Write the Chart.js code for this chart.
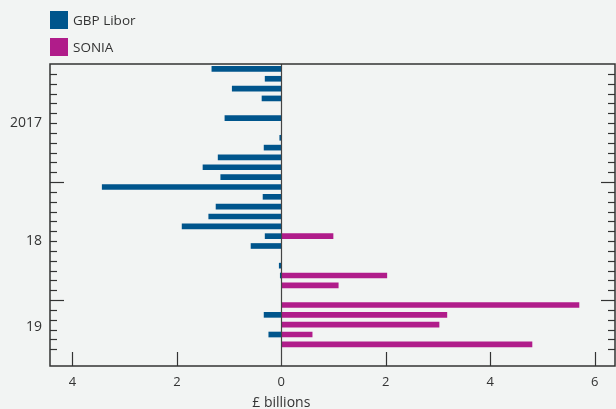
<!DOCTYPE html>
<html>
<head>
<meta charset="utf-8">
<script src="https://cdn.jsdelivr.net/npm/chart.js@4"></script>
<style>
  html, body { margin: 0; padding: 0; background: #f2f4f3; }
  #wrap { position: relative; width: 616px; height: 409px; }
  canvas { position: absolute; left: 0; top: 0; }
  .leg { position: absolute; left: 50px; height: 18px; display: flex; align-items: center;
         font-family: "Open Sans", sans-serif; font-size: 13.5px; color: #333; white-space: nowrap; }
  .leg .sw { width: 18px; height: 18px; margin-right: 5px; display: inline-block; }
</style>
</head>
<body>
<div id="wrap">
  <canvas id="c" width="616" height="409"></canvas>
</div>
<script>
// Months: Jan 2017 .. Jul 2019
const months = [
  'Jan 2017','Feb 2017','Mar 2017','Apr 2017','May 2017','Jun 2017','Jul 2017','Aug 2017','Sep 2017','Oct 2017','Nov 2017','Dec 2017',
  'Jan 2018','Feb 2018','Mar 2018','Apr 2018','May 2018','Jun 2018','Jul 2018','Aug 2018','Sep 2018','Oct 2018','Nov 2018','Dec 2018',
  'Jan 2019','Feb 2019','Mar 2019','Apr 2019','May 2019','Jun 2019','Jul 2019'
];
// £ billions (negative = plotted to the left)
const gbpLibor = [
  -1.33, -0.31, -0.94, -0.37, null, -1.08, null, -0.03, -0.33, -1.21, -1.50, -1.16,
  -3.43, -0.35, -1.25, -1.39, -1.90, -0.31, -0.58, null, -0.04, -0.02, null, null,
  null, -0.33, null, -0.24, null, null, null
];
const sonia = [
  null, null, null, null, null, null, null, null, null, null, null, null,
  null, null, null, null, null, 0.99, null, null, null, 2.02, 1.09, null,
  5.70, 3.17, 3.02, 0.59, 4.80, null, null
];
const seriesNames = ['GBP Libor', 'SONIA'];
const seriesColors = ['#00558c', '#b01c8a'];
const xTickValues = [-4, -2, 0, 2, 4, 6];
const yearLabels = ['2017', '18', '19'];
const yearLabelPos = [6, 18, 26.7];   // in month-index units
const yearStarts = [12, 24];          // month boundaries marked with long ticks
const xTitle = '£ billions';

function toPoints(arr) {
  const pts = [];
  arr.forEach((v, i) => { if (v !== null) pts.push({ x: v, y: i + 0.5 }); });
  return pts;
}

const INK = '#333333';

const framePlugin = {
  id: 'frame',
  afterDatasetsDraw(chart) {
    const { ctx, chartArea: a, scales: { x, y } } = chart;
    const line = (x1, y1, x2, y2) => { ctx.beginPath(); ctx.moveTo(x1, y1); ctx.lineTo(x2, y2); ctx.stroke(); };
    ctx.save();
    ctx.strokeStyle = INK;
    ctx.lineWidth = 1.2;
    // month ticks, inward on both sides
    for (let k = 1; k < months.length - 1; k++) {
      const py = Math.round(y.getPixelForValue(k)) + 0.5;
      const len = yearStarts.includes(k) ? 14 : 7;
      line(a.left, py, a.left + len, py);
      line(a.right - len, py, a.right, py);
    }
    // x ticks inward
    xTickValues.forEach(v => {
      if (v === 0) return;
      const px = Math.round(x.getPixelForValue(v)) + 0.5;
      line(px, a.bottom, px, a.bottom - 14);
    });
    // zero line
    ctx.strokeStyle = '#444';
    const p0 = Math.round(x.getPixelForValue(0)) + 0.5;
    line(p0, a.top, p0, a.bottom);
    // frame
    ctx.strokeStyle = INK;
    ctx.lineWidth = 1.5;
    ctx.strokeRect(a.left, a.top, a.right - a.left, a.bottom - a.top);
    // axis title centred on zero
    ctx.fillStyle = INK;
    ctx.font = '14px "Open Sans", sans-serif';
    ctx.textAlign = 'center';
    ctx.textBaseline = 'middle';
    ctx.fillText(xTitle, x.getPixelForValue(0), a.bottom + 37);
    ctx.restore();
  }
};

const chart = new Chart(document.getElementById('c'), {
  type: 'bar',
  data: {
    datasets: [
      { label: seriesNames[0], data: toPoints(gbpLibor), backgroundColor: seriesColors[0], grouped: false, barThickness: 5 },
      { label: seriesNames[1], data: toPoints(sonia), backgroundColor: seriesColors[1], grouped: false, barThickness: 5 }
    ]
  },
  options: {
    indexAxis: 'y',
    responsive: false,
    animation: false,
    events: [],
    layout: { padding: { top: 64, right: 1, left: 0, bottom: 0 } },
    plugins: { legend: { display: false }, tooltip: { enabled: false } },
    scales: {
      y: {
        type: 'linear',
        reverse: true,
        offset: false,
        min: 0,
        max: 30.7,
        grid: { display: false, offset: false, drawTicks: false },
        border: { display: false },
        afterBuildTicks: (s) => { s.ticks = yearLabelPos.map(v => ({ value: v })); },
        afterFit: (s) => { s.width = 50; },
        ticks: {
          padding: 8,
          color: INK,
          font: { family: '"Open Sans", sans-serif', size: 14 },
          callback: (v, i) => yearLabels[i]
        }
      },
      x: {
        type: 'linear',
        offset: false,
        min: -4.43,
        max: 6.39,
        grid: { display: false, drawTicks: false },
        border: { display: false },
        afterBuildTicks: (s) => { s.ticks = xTickValues.map(v => ({ value: v })); },
        afterFit: (s) => { s.height = 43; },
        ticks: {
          padding: 8,
          color: INK,
          font: { family: '"Open Sans", sans-serif', size: 13 },
          callback: (v) => String(Math.abs(v))
        }
      }
    }
  },
  plugins: [framePlugin]
});

// HTML legend built from the datasets
const wrap = document.getElementById('wrap');
chart.data.datasets.forEach((ds, i) => {
  const d = document.createElement('div');
  d.className = 'leg';
  d.style.top = (11 + i * 27) + 'px';
  const sw = document.createElement('span');
  sw.className = 'sw';
  sw.style.background = ds.backgroundColor;
  d.appendChild(sw);
  d.appendChild(document.createTextNode(ds.label));
  wrap.appendChild(d);
});
</script>
</body>
</html>
